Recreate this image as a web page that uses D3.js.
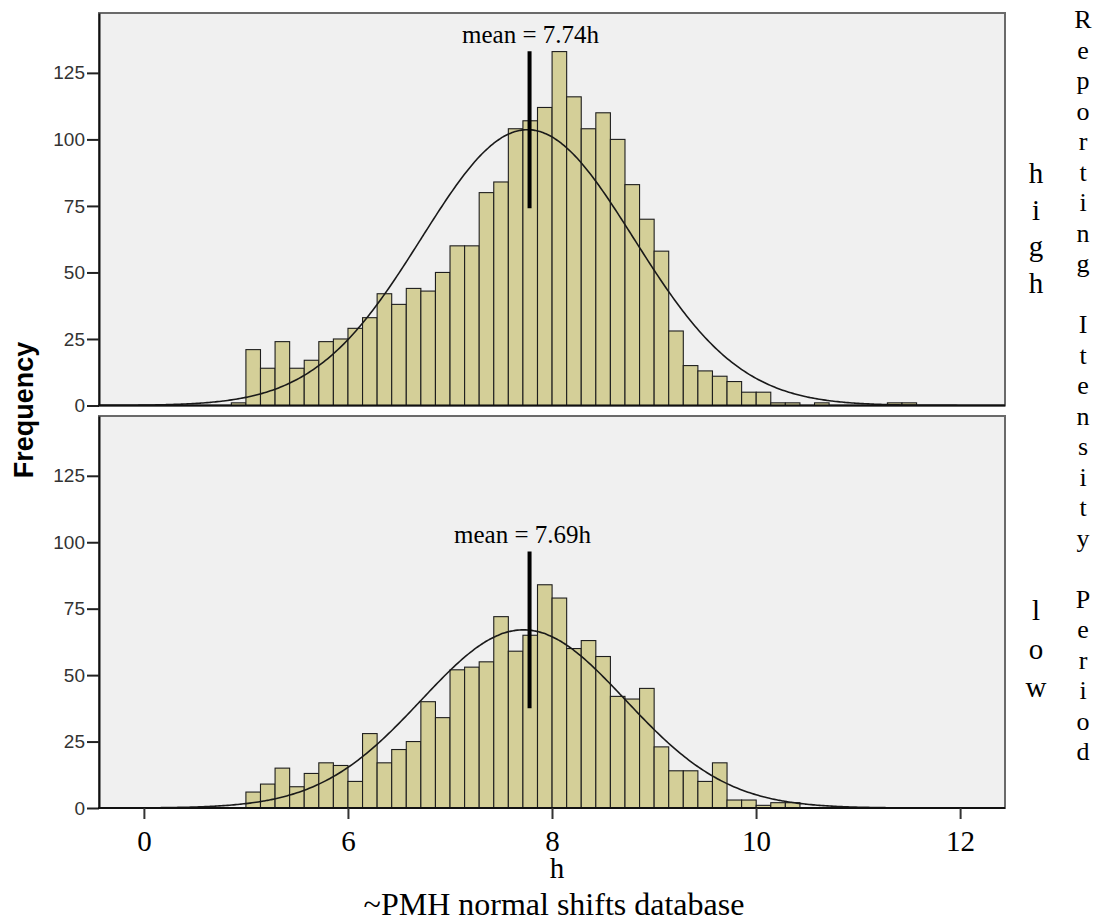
<!DOCTYPE html>
<html>
<head>
<meta charset="utf-8">
<script src="https://cdn.jsdelivr.net/npm/d3@7"></script>
<style>
  html, body { margin: 0; padding: 0; background: #fff; }
  svg { display: block; }
</style>
</head>
<body>
<svg id="chart" width="1105" height="922"></svg>
<script>
// ---------------- data ----------------
const binStart = 4.857;          // left edge of first bin (h)
const binWidth = 0.1429;         // bin width (h)
const highCounts = [1, 21,14,24,14,17,24,25,29,33,42,38,44,43,50,60,60,80,84,104,107,112,133,116,104,110,100,83,70,58,28,15,13,11,9,5,5,1,1,0,1,0,0,0,0,1,1];
const lowCounts  = [0, 6,9,15,8,13,17,16,10,28,17,22,25,40,34,52,53,55,72,59,65,84,79,60,63,57,42,41,45,23,14,14,10,17,3,3,1,2,2];
const panelNames = ["high", "low"];
const meanLabels = ["mean = 7.74h", "mean = 7.69h"];
const meanLinePos = [7.78, 7.78];
const curveMean = [7.76, 7.72];
const curveSd = [1.04, 1.00];
const xTickValues = [4, 6, 8, 10, 12];
const xTickLabels = ["0", "6", "8", "10", "12"];
const yTickValues = [0, 25, 50, 75, 100, 125];
const xTitle = "h";
const caption = "~PMH normal shifts database";
const yTitle = "Frequency";
const stripTitle = "Reporting Itensity Period";

// ---------------- layout ----------------
const svg = d3.select("#chart");
const left = 99, right = 1005;
const panels = [
  { counts: highCounts, top: 13, bottom: 405.5 },
  { counts: lowCounts,  top: 416, bottom: 808 }
];
const x = d3.scaleLinear().domain([3.56, 12.44]).range([left, right]);
const yMax = 147.5;
const barFill = "#d4cf98";
const serif = "'Liberation Serif', 'Times New Roman', serif";
const sans = "'Liberation Sans', Arial, sans-serif";

const defs = svg.append("defs");

panels.forEach((p, pi) => {
  const y = d3.scaleLinear().domain([0, yMax]).range([p.bottom, p.top]);
  const g = svg.append("g");
  const clipId = "clip" + pi;
  defs.append("clipPath").attr("id", clipId)
    .append("rect").attr("x", left).attr("y", p.top).attr("width", right - left).attr("height", p.bottom - p.top);

  // panel background + frame
  g.append("rect").attr("x", left).attr("y", p.top).attr("width", right - left).attr("height", p.bottom - p.top)
    .attr("fill", "#f0f0f0").attr("stroke", "#6a6a6a").attr("stroke-width", 2);

  const inner = g.append("g").attr("clip-path", `url(#${clipId})`);

  // bars
  const bins = p.counts.map((c, i) => ({ x0: binStart + i * binWidth, x1: binStart + (i + 1) * binWidth, c }))
    .filter(d => d.c > 0);
  inner.selectAll("rect.bar").data(bins).enter().append("rect")
    .attr("class", "bar")
    .attr("x", d => x(d.x0))
    .attr("width", d => x(d.x1) - x(d.x0))
    .attr("y", d => y(d.c))
    .attr("height", d => y(0) - y(d.c))
    .attr("fill", barFill)
    .attr("stroke", "#1e1e1e")
    .attr("stroke-width", 1.1);

  // normal curve
  const n = d3.sum(p.counts);
  const mu = curveMean[pi], sd = curveSd[pi];
  const pdf = v => n * binWidth * Math.exp(-0.5 * ((v - mu) / sd) ** 2) / (sd * Math.sqrt(2 * Math.PI));
  const xs = d3.range(x.domain()[0], x.domain()[1] + 0.001, 0.02);
  inner.append("path")
    .datum(xs)
    .attr("d", d3.line().x(v => x(v)).y(v => y(pdf(v))).curve(d3.curveBasis))
    .attr("fill", "none").attr("stroke", "#1a1a1a").attr("stroke-width", 1.6);

  // mean line
  const peak = pdf(mu);
  g.append("line")
    .attr("x1", x(meanLinePos[pi])).attr("x2", x(meanLinePos[pi]))
    .attr("y1", y(peak + 29.5)).attr("y2", y(peak - 29.5))
    .attr("stroke", "#000").attr("stroke-width", 4);
  g.append("text")
    .attr("x", x(meanLinePos[pi]) + (pi === 0 ? 1 : -7))
    .attr("y", y(peak + 29.5) - 8)
    .attr("text-anchor", "middle")
    .attr("font-family", serif).attr("font-size", 25).attr("fill", "#000")
    .text(meanLabels[pi]);

  // y axis
  const yAxis = d3.axisLeft(y).tickValues(yTickValues).tickSize(12).tickSizeOuter(0).tickPadding(2);
  const ya = g.append("g").attr("transform", `translate(${left},0)`).call(yAxis);
  ya.select(".domain").attr("stroke", "#111").attr("stroke-width", 2);
  ya.selectAll(".tick line").attr("stroke", "#222").attr("stroke-width", 2);
  ya.selectAll(".tick text").attr("font-family", sans).attr("font-size", 19).attr("fill", "#333");

  // baseline (x axis line)
  g.append("line").attr("x1", left - 1).attr("x2", right).attr("y1", p.bottom).attr("y2", p.bottom)
    .attr("stroke", "#111").attr("stroke-width", 2.2);

  // panel label (stacked letters)
  const lab = svg.append("text")
    .attr("font-family", serif).attr("font-size", 29).attr("fill", "#000").attr("text-anchor", "middle");
  const startY = pi === 0 ? 183 : 620;
  const step = pi === 0 ? 36.7 : 38.5;
  panelNames[pi].split("").forEach((ch, k) => {
    lab.append("tspan").attr("x", 1036).attr("y", startY + k * step).text(ch);
  });
});

// x axis for bottom panel
const bottomY = panels[1].bottom;
defs.append("clipPath").attr("id", "tickclip")
  .append("rect").attr("x", 0).attr("y", 0).attr("width", 1105).attr("height", 848.5);
const xAxis = d3.axisBottom(x).tickValues(xTickValues).tickFormat((d, i) => xTickLabels[i])
  .tickSize(11).tickSizeOuter(0).tickPadding(2);
const xa = svg.append("g").attr("transform", `translate(0,${bottomY})`).attr("clip-path", "url(#tickclip)").call(xAxis);
xa.select(".domain").remove();
xa.selectAll(".tick line").attr("stroke", "#333").attr("stroke-width", 2);
xa.selectAll(".tick text").attr("font-family", serif).attr("font-size", 29).attr("fill", "#000")
  .attr("dy", null).attr("y", 851 - bottomY).attr("dominant-baseline", "alphabetic");

// x titles
svg.append("text").attr("x", 557).attr("y", 878).attr("text-anchor", "middle")
  .attr("font-family", serif).attr("font-size", 29).attr("fill", "#000").text(xTitle);
svg.append("text").attr("x", 554).attr("y", 915).attr("text-anchor", "middle")
  .attr("font-family", serif).attr("font-size", 32).attr("fill", "#000").text(caption);

// y title
svg.append("text")
  .attr("transform", "translate(33,410) rotate(-90)")
  .attr("text-anchor", "middle")
  .attr("font-family", sans).attr("font-weight", "bold").attr("font-size", 27).attr("fill", "#000")
  .text(yTitle);

// strip title (stacked letters)
const st = svg.append("text").attr("font-family", serif).attr("font-size", 26).attr("fill", "#000").attr("text-anchor", "middle");
stripTitle.split("").forEach((ch, k) => {
  st.append("tspan").attr("x", 1083).attr("y", 28 + k * 30.5).text(ch === " " ? "\u00a0" : ch);
});
</script>
</body>
</html>
